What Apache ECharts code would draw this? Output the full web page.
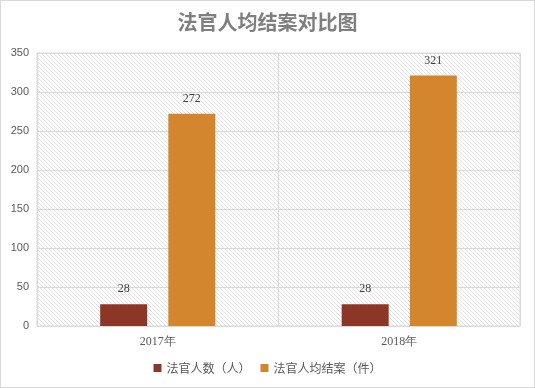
<!DOCTYPE html>
<html><head><meta charset="utf-8">
<script src="https://cdn.jsdelivr.net/npm/echarts@6/dist/echarts.min.js"></script>
<style>html,body{margin:0;padding:0;background:#fff}#c{width:535px;height:388px;box-sizing:border-box;border:1px solid #d9d9d9}</style>
</head><body><div id="c"></div>
<script>
const categories = ['2017年', '2018年'];
const judges = [28, 28];
const casesPerJudge = [272, 321];
const seriesNames = ['法官人数（人）', '法官人均结案（件）'];

const pc = document.createElement('canvas');
pc.width = 4; pc.height = 4;
const g = pc.getContext('2d');
g.fillStyle = '#ffffff'; g.fillRect(0,0,4,4);
g.fillStyle = '#e2e2e2';
for (let i = 0; i < 4; i++) { g.fillRect(i, i, 1, 1); }

const chart = echarts.init(document.getElementById('c'));
const font = 'Microsoft YaHei, "Noto Sans CJK SC", sans-serif';
chart.setOption({
  animation: false,
  title: {text: '法官人均结案对比图', left: 'center', top: 6,
    textStyle: {color: '#7f7f7f', fontSize: 20, fontWeight: 'bold', fontFamily: font}},
  legend: {bottom: 8, itemWidth: 8, itemHeight: 8, itemGap: 10, icon: 'rect',
    textStyle: {color: '#595959', fontSize: 12, fontFamily: font}, data: seriesNames},
  grid: {left: 36, right: 14, top: 52, bottom: 61, show: true,
    backgroundColor: {image: pc, repeat: 'repeat'}, borderColor: '#d9d9d9', borderWidth: 1},
  xAxis: {type: 'category', data: categories,
    axisLine: {lineStyle: {color: '#d9d9d9'}}, axisTick: {show: false},
    splitLine: {show: true, lineStyle: {color: '#d9d9d9'}},
    axisLabel: {color: '#595959', fontSize: 12, fontFamily: 'Liberation Serif, serif', margin: 10}},
  yAxis: {type: 'value', min: 0, max: 350, interval: 50,
    axisLine: {show: false}, axisTick: {show: false},
    splitLine: {lineStyle: {color: '#d9d9d9'}},
    axisLabel: {color: '#595959', fontSize: 11, fontFamily: 'Liberation Sans, sans-serif', margin: 8}},
  series: [
    {name: seriesNames[0], type: 'bar', data: judges, barWidth: 47, barGap: '45%',
      itemStyle: {color: '#8b3626'},
      label: {show: true, position: 'top', distance: 9, color: '#404040', fontSize: 12, fontFamily: 'Liberation Serif, serif'}},
    {name: seriesNames[1], type: 'bar', data: casesPerJudge, barWidth: 47,
      itemStyle: {color: '#d4862e'},
      label: {show: true, position: 'top', distance: 9, color: '#404040', fontSize: 12, fontFamily: 'Liberation Serif, serif'}}
  ]
});
</script></body></html>
